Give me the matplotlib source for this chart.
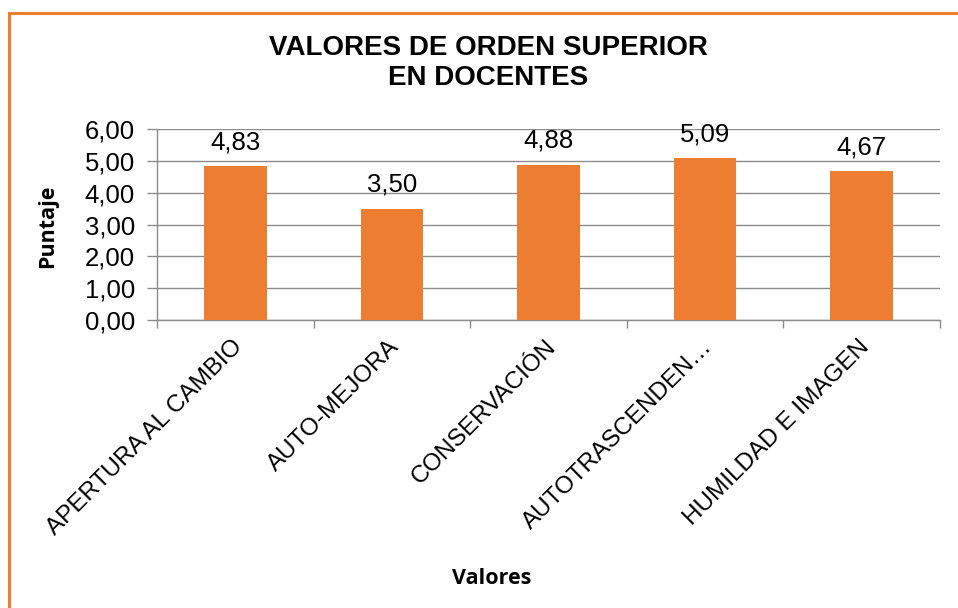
import matplotlib
matplotlib.use("Agg")
import matplotlib.pyplot as plt
from matplotlib.patches import Rectangle
import numpy as np

categories = ["APERTURA AL CAMBIO", "AUTO-MEJORA", "CONSERVACIÓN",
              "AUTOTRASCENDEN…", "HUMILDAD E IMAGEN"]
values = [4.83, 3.50, 4.88, 5.09, 4.67]
yticks = [0, 1, 2, 3, 4, 5, 6]
title = "VALORES DE ORDEN SUPERIOR\nEN DOCENTES"
xlabel = "Valores"
ylabel = "Puntaje"

ORANGE = "#ED7D31"
GRID = "#8C8C8C"
W, H = 958, 608

plt.rcParams['font.family'] = ['Liberation Sans', 'DejaVu Sans']
fig = plt.figure(figsize=(W / 100, H / 100), dpi=100)

# outer border (Excel chart area)
fig.patches.append(Rectangle((8.5 / W, -0.01), 1.02, 1 - 12.5 / H + 0.01,
                             transform=fig.transFigure, fill=False,
                             edgecolor=ORANGE, linewidth=2.2))

ax = fig.add_axes([157 / W, 1 - 320 / H, (940 - 157) / W, (320 - 129) / H])
x = np.arange(len(categories))
ax.bar(x, values, width=0.4, color=ORANGE, zorder=3)
ax.set_xlim(-0.5, len(categories) - 0.5)
ax.set_ylim(0, 6)

ax.set_yticks(yticks)
ax.set_yticklabels([f"{v:.2f}".replace(".", ",") for v in yticks], fontsize=18.5)
ax.yaxis.grid(True, color=GRID, linewidth=1.0, zorder=0)
ax.tick_params(axis='y', length=7, width=1, color=GRID, pad=9)

ax.set_xticks(x)
ax.set_xticklabels([])
ax.set_xticks(np.arange(-0.5, len(categories), 1.0), minor=True)
ax.tick_params(axis='x', which='major', length=0)
ax.tick_params(axis='x', which='minor', length=6, width=1, color=GRID)

for xi, lab in zip(x, categories):
    ax.annotate(lab, xy=(xi, 0), xycoords=('data', 'axes fraction'),
                xytext=(3, -17), textcoords='offset points',
                rotation=45, rotation_mode='anchor', ha='right', va='center',
                fontsize=17.5)

for s in ['top', 'right']:
    ax.spines[s].set_visible(False)
for s in ['left', 'bottom']:
    ax.spines[s].set_color(GRID)
    ax.spines[s].set_linewidth(1.0)

for xi, v in zip(x, values):
    ax.annotate(f"{v:.2f}".replace(".", ","), xy=(xi, v), xytext=(0, 12),
                textcoords='offset points', ha='center', va='baseline',
                fontsize=18.5)

fig.text(488 / W, 1 - 63 / H, title, ha='center', va='center',
         fontsize=20, fontweight='bold', linespacing=1.2)
fig.text(492 / W, 1 - 578 / H, xlabel, ha='center', va='center',
         fontsize=15.5, fontweight='bold', family=['Open Sans', 'DejaVu Sans'])
fig.text(48 / W, 1 - 226 / H, ylabel, ha='center', va='center', rotation=90,
         fontsize=15.5, fontweight='bold', family=['Open Sans', 'DejaVu Sans'])

fig.savefig("out.png", dpi=100)
